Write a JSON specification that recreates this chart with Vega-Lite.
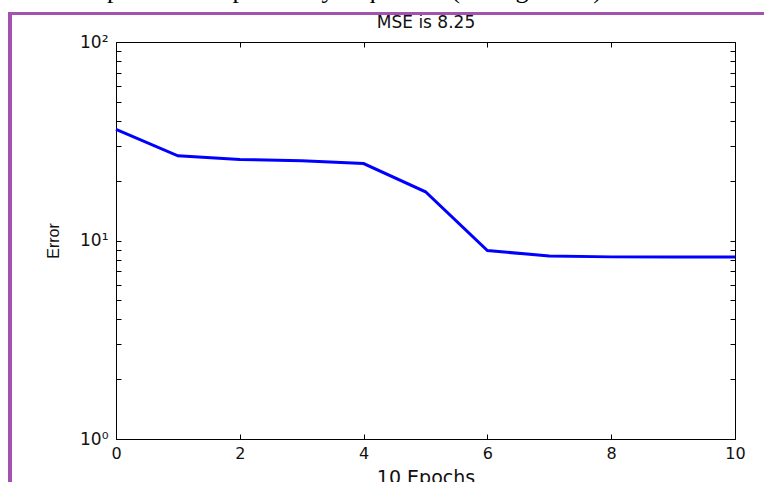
{
  "$schema": "https://vega.github.io/schema/vega-lite/v6.json",
  "width": 619,
  "height": 397,
  "autosize": {"type": "none"},
  "padding": {"left": 116, "top": 42, "right": 29, "bottom": 43},
  "background": "white",
  "title": {
    "text": "neuron output with output always equal one(see figure 11).",
    "anchor": "start",
    "frame": "group",
    "font": "Liberation Serif",
    "fontSize": 26,
    "fontWeight": "normal",
    "color": "black",
    "baseline": "alphabetic",
    "dx": -121,
    "offset": -12
  },
  "data": {
    "values": [
      {"epoch": 0, "error": 36.3},
      {"epoch": 1, "error": 26.7},
      {"epoch": 2, "error": 25.6},
      {"epoch": 3, "error": 25.2},
      {"epoch": 4, "error": 24.4},
      {"epoch": 5, "error": 17.6},
      {"epoch": 6, "error": 8.9},
      {"epoch": 7, "error": 8.35},
      {"epoch": 8, "error": 8.27},
      {"epoch": 9, "error": 8.25},
      {"epoch": 10, "error": 8.25}
    ]
  },
  "config": {
    "view": {"stroke": "black", "strokeWidth": 1},
    "axis": {
      "grid": false,
      "domain": false,
      "tickColor": "black",
      "labelFont": "DejaVu Sans",
      "labelColor": "#111111",
      "titleFont": "DejaVu Sans",
      "titleColor": "#111111",
      "titleFontWeight": "normal",
      "labelOverlap": false,
      "labelBound": false,
      "labelFlush": false
    }
  },
  "layer": [
    {
      "mark": {"type": "rect", "clip": false, "fill": "transparent", "stroke": "#a352b0", "strokeWidth": 3},
      "encoding": {
        "x": {
          "datum": -1.71,
          "type": "quantitative",
          "scale": {"domain": [0, 10], "nice": false},
          "axis": {
            "orient": "top",
            "values": [0, 2, 4, 6, 8, 10],
            "tickSize": -5,
            "labels": false,
            "title": "MSE is 8.25",
            "titleFontSize": 17,
            "titlePadding": 10
          }
        },
        "x2": {"datum": 10.6},
        "y": {
          "datum": 139.2,
          "type": "quantitative",
          "scale": {"type": "log", "domain": [1, 100], "nice": false},
          "axis": {
            "orient": "right",
            "values": [1, 2, 3, 4, 5, 6, 7, 8, 9, 10, 20, 30, 40, 50, 60, 70, 80, 90, 100],
            "tickSize": -5,
            "labels": false,
            "title": null
          }
        },
        "y2": {"datum": 0.553}
      }
    },
    {
      "mark": {"type": "line", "color": "#0000ff", "strokeWidth": 3},
      "encoding": {
        "x": {
          "field": "epoch",
          "type": "quantitative",
          "scale": {"domain": [0, 10], "nice": false},
          "axis": {
            "orient": "bottom",
            "values": [0, 2, 4, 6, 8, 10],
            "tickSize": -5,
            "labelFontSize": 16,
            "labelPadding": 11,
            "title": "10 Epochs",
            "titleFontSize": 19,
            "titlePadding": 7
          }
        },
        "y": {
          "field": "error",
          "type": "quantitative",
          "scale": {"type": "log", "domain": [1, 100], "nice": false},
          "axis": {
            "orient": "left",
            "values": [1, 2, 3, 4, 5, 6, 7, 8, 9, 10, 20, 30, 40, 50, 60, 70, 80, 90, 100],
            "tickSize": -5,
            "labelFontSize": 17,
            "labelPadding": 13,
            "labelExpr": "datum.value == 1 ? '10⁰' : datum.value == 10 ? '10¹' : datum.value == 100 ? '10²' : ''",
            "title": "Error",
            "titleFont": "Liberation Sans",
            "titleFontSize": 16,
            "titlePadding": 18
          }
        }
      }
    }
  ]
}
